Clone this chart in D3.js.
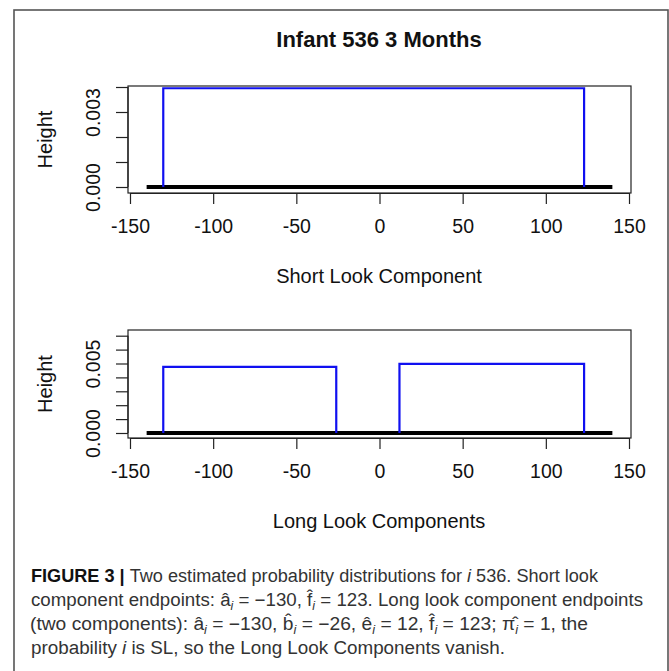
<!DOCTYPE html>
<html>
<head>
<meta charset="utf-8">
<script src="https://cdn.jsdelivr.net/npm/d3@7"></script>
<style>
  html, body { margin: 0; padding: 0; background: #fff; }
  svg { display: block; }
</style>
</head>
<body>
<div id="chart"></div>
<script>
// Estimated uniform-mixture components (x endpoints, density height)
const shortLookComponents = [
  { start: -130, end: 123, height: 0.00395 }
];
const longLookComponents = [
  { start: -130, end: -26, height: 0.00475 },
  { start: 12, end: 123, height: 0.00497 }
];
// Support of the look-time axis (thick baseline)
const baselineRange = [-140, 140];

const xTicks = [-150, -100, -50, 0, 50, 100, 150];
const shortYTicks = [0, 0.001, 0.002, 0.003, 0.004];
const shortYLabels = [0, 0.003];
const longYTicks = [0, 0.001, 0.002, 0.003, 0.004, 0.005, 0.006, 0.007];
const longYLabels = [0, 0.005];

const titleText = "Infant 536 3 Months";
const shortXLabel = "Short Look Component";
const longXLabel = "Long Look Components";
const yLabel = "Height";

const W = 669, H = 671;
const svg = d3.select("#chart").append("svg")
  .attr("width", W).attr("height", H)
  .style("font-family", "'Liberation Sans', Arial, sans-serif");

// Outer figure frame
svg.append("rect")
  .attr("x", 14).attr("y", 10)
  .attr("width", 654).attr("height", 680)
  .attr("fill", "none")
  .attr("stroke", "#555")
  .attr("stroke-width", 1.6);

svg.append("text")
  .attr("x", 379).attr("y", 47)
  .attr("text-anchor", "middle")
  .attr("font-size", 22)
  .attr("font-weight", "bold")
  .attr("fill", "#111")
  .text(titleText);

function panel(cfg) {
  const x = d3.scaleLinear().domain([-151.2, 151.2]).range([128, 631]);
  const y = d3.scaleLinear().domain(cfg.yDomain).range([cfg.bottom, cfg.top]);
  const g = svg.append("g");

  // Plot box
  g.append("rect")
    .attr("x", x.range()[0]).attr("y", cfg.top)
    .attr("width", x.range()[1] - x.range()[0])
    .attr("height", cfg.bottom - cfg.top)
    .attr("fill", "none").attr("stroke", "#222").attr("stroke-width", 1.2);

  // X axis
  const xAxis = d3.axisBottom(x).tickValues(xTicks).tickSize(11).tickPadding(15)
    .tickFormat(d3.format("d"));
  const xg = g.append("g").attr("transform", `translate(0,${cfg.bottom})`).call(xAxis);
  xg.select(".domain").attr("d", `M${x(-150)},0.5H${x(150)}`).attr("stroke", "#222").attr("stroke-width", 1.2);
  xg.selectAll(".tick line").attr("stroke", "#222").attr("stroke-width", 1.2);
  xg.selectAll(".tick text")
    .attr("font-size", 19.5).attr("fill", "#111")
    .attr("font-family", "'Liberation Sans', Arial, sans-serif")
    .text(d => d < 0 ? "-" + Math.abs(d) : d);

  // Y axis, labels only on selected ticks
  const yAxis = d3.axisLeft(y).tickValues(cfg.yTicks).tickSize(12)
    .tickFormat(d => cfg.yLabels.some(v => Math.abs(v - d) < 1e-9) ? d3.format(".3f")(d) : "");
  const yg = g.append("g").attr("transform", `translate(${x.range()[0]},0)`).call(yAxis);
  yg.select(".domain").attr("d", `M0,${y(cfg.yTicks[0])}V${y(cfg.yTicks[cfg.yTicks.length - 1])}`)
    .attr("stroke", "#222").attr("stroke-width", 1.2);
  yg.selectAll(".tick line").attr("stroke", "#222").attr("stroke-width", 1.2);
  yg.selectAll(".tick text")
    .attr("font-size", 19.5).attr("fill", "#111")
    .attr("font-family", "'Liberation Sans', Arial, sans-serif")
    .attr("text-anchor", "middle")
    .attr("x", null).attr("dy", null)
    .attr("transform", "translate(-28,0) rotate(-90)");

  // Thick zero baseline
  g.append("line")
    .attr("x1", x(baselineRange[0])).attr("x2", x(baselineRange[1]))
    .attr("y1", y(0)).attr("y2", y(0))
    .attr("stroke", "#000").attr("stroke-width", 4);

  // Uniform component outlines
  const line = d3.line().x(d => x(d[0])).y(d => y(d[1]));
  cfg.components.forEach(c => {
    g.append("path")
      .attr("d", line([[c.start, 0], [c.start, c.height], [c.end, c.height], [c.end, 0]]))
      .attr("fill", "none").attr("stroke", "#1010f0").attr("stroke-width", 2.2);
  });

  g.append("text")
    .attr("x", 379).attr("y", cfg.xLabelY)
    .attr("text-anchor", "middle").attr("font-size", 20).attr("fill", "#111")
    .text(cfg.xLabel);

  g.append("text")
    .attr("transform", `translate(52,${(cfg.top + cfg.bottom) / 2}) rotate(-90)`)
    .attr("text-anchor", "middle").attr("font-size", 20).attr("fill", "#111")
    .text(yLabel);
}

panel({
  top: 86, bottom: 193,
  yDomain: [-0.00024, 0.00404],
  yTicks: shortYTicks, yLabels: shortYLabels,
  components: shortLookComponents,
  xLabel: shortXLabel, xLabelY: 283
});

panel({
  top: 330, bottom: 438,
  yDomain: [-0.00036, 0.00741],
  yTicks: longYTicks, yLabels: longYLabels,
  components: longLookComponents,
  xLabel: longXLabel, xLabelY: 528
});

// Caption
const caption = svg.append("g")
  .attr("font-family", "'Liberation Sans', Arial, sans-serif")
  .attr("font-size", 18).attr("fill", "#333");

function hatSub(t, base, opts) {
  t.append("tspan").text(base);
  t.append("tspan").attr("font-size", 12).attr("font-style", "italic").attr("dy", 4).text("i");
  t.append("tspan").attr("dy", -4).text(opts || "");
}

const l1 = caption.append("text").attr("x", 31).attr("y", 582)
  .attr("textLength", 567).attr("lengthAdjust", "spacingAndGlyphs");
l1.append("tspan").attr("font-weight", "bold").attr("fill", "#111").text("FIGURE 3 | ");
l1.append("tspan").text("Two estimated probability distributions for ");
l1.append("tspan").attr("font-style", "italic").text("i");
l1.append("tspan").text(" 536. Short look");

const l2 = caption.append("text").attr("x", 31).attr("y", 606)
  .attr("textLength", 612).attr("lengthAdjust", "spacingAndGlyphs");
l2.append("tspan").text("component endpoints: ");
hatSub(l2, "a\u0302", " = \u2212130, ");
hatSub(l2, "f\u0302", " = 123. Long look component endpoints");

const l3 = caption.append("text").attr("x", 30).attr("y", 630)
  .attr("textLength", 558).attr("lengthAdjust", "spacingAndGlyphs");
l3.append("tspan").text("(two components): ");
hatSub(l3, "a\u0302", " = \u2212130, ");
hatSub(l3, "b\u0302", " = \u221226, ");
hatSub(l3, "e\u0302", " = 12, ");
hatSub(l3, "f\u0302", " = 123; ");
hatSub(l3, "\u03c0\u0302", " = 1, the");

const l4 = caption.append("text").attr("x", 31).attr("y", 654)
  .attr("textLength", 474).attr("lengthAdjust", "spacingAndGlyphs");
l4.append("tspan").text("probability ");
l4.append("tspan").attr("font-style", "italic").text("i");
l4.append("tspan").text(" is SL, so the Long Look Components vanish.");
</script>
</body>
</html>
